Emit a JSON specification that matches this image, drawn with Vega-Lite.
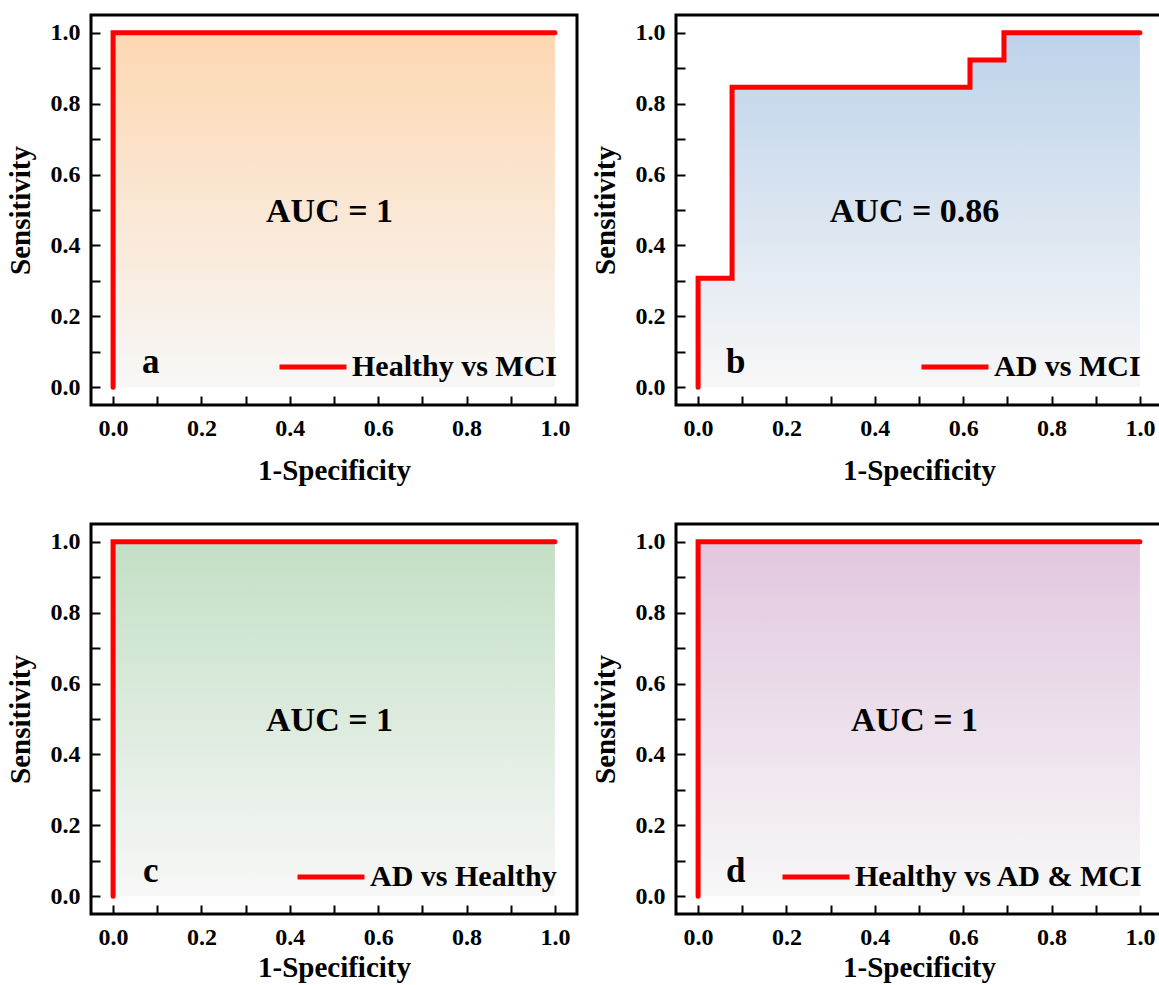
{
  "$schema": "https://vega.github.io/schema/vega-lite/v6.json",
  "background": "white",
  "padding": {"left": 4, "top": 13, "right": 0, "bottom": 0},
  "bounds": "flush",
  "columns": 2,
  "spacing": {"row": 119, "column": 99},
  "datasets": {
    "roc": [
      {"panel": "a", "comparison": "Healthy vs MCI", "step": 1, "fpr": 0, "tpr": 0},
      {"panel": "a", "comparison": "Healthy vs MCI", "step": 2, "fpr": 0, "tpr": 1},
      {"panel": "a", "comparison": "Healthy vs MCI", "step": 3, "fpr": 1, "tpr": 1},
      {"panel": "b", "comparison": "AD vs MCI", "step": 1, "fpr": 0, "tpr": 0},
      {"panel": "b", "comparison": "AD vs MCI", "step": 2, "fpr": 0, "tpr": 0.3077},
      {"panel": "b", "comparison": "AD vs MCI", "step": 3, "fpr": 0.0769, "tpr": 0.8462},
      {"panel": "b", "comparison": "AD vs MCI", "step": 4, "fpr": 0.6154, "tpr": 0.9231},
      {"panel": "b", "comparison": "AD vs MCI", "step": 5, "fpr": 0.6923, "tpr": 1},
      {"panel": "b", "comparison": "AD vs MCI", "step": 6, "fpr": 1, "tpr": 1},
      {"panel": "c", "comparison": "AD vs Healthy", "step": 1, "fpr": 0, "tpr": 0},
      {"panel": "c", "comparison": "AD vs Healthy", "step": 2, "fpr": 0, "tpr": 1},
      {"panel": "c", "comparison": "AD vs Healthy", "step": 3, "fpr": 1, "tpr": 1},
      {"panel": "d", "comparison": "Healthy vs AD & MCI", "step": 1, "fpr": 0, "tpr": 0},
      {"panel": "d", "comparison": "Healthy vs AD & MCI", "step": 2, "fpr": 0, "tpr": 1},
      {"panel": "d", "comparison": "Healthy vs AD & MCI", "step": 3, "fpr": 1, "tpr": 1}
    ],
    "panels": [
      {"panel": "a", "auc": "AUC = 1"},
      {"panel": "b", "auc": "AUC = 0.86"},
      {"panel": "c", "auc": "AUC = 1"},
      {"panel": "d", "auc": "AUC = 1"}
    ]
  },
  "concat": [
    {
      "width": 486, "height": 390,
      "layer": [
        {"data": {"name": "roc"}, "transform": [{"filter": "datum.panel == 'a' && datum.step > 1"}],
         "mark": {"type": "area", "interpolate": "step-after", "color": {"gradient": "linear", "x1": 0, "y1": 0, "x2": 0, "y2": 1, "stops": [{"offset": 0, "color": "#fdd7b1"}, {"offset": 1, "color": "#f7f7f7"}]}},
         "encoding": {
           "x": {"field": "fpr", "type": "quantitative", "scale": {"domain": [-0.05, 1.05], "nice": false, "zero": false}, "axis": {"title": "1-Specificity", "titlePadding": 16, "values": [0,0.1,0.2,0.3,0.4,0.5,0.6,0.7,0.8,0.9,1], "labelExpr": "(round(datum.value*10) % 2 == 0) ? format(datum.value, '.1f') : ''"}},
           "y": {"field": "tpr", "type": "quantitative", "scale": {"domain": [-0.05, 1.05], "nice": false, "zero": false}, "axis": {"title": "Sensitivity", "values": [0,0.1,0.2,0.3,0.4,0.5,0.6,0.7,0.8,0.9,1], "labelExpr": "(round(datum.value*10) % 2 == 0) ? format(datum.value, '.1f') : ''"}}
         }},
        {"data": {"name": "roc"}, "transform": [{"filter": "datum.panel == 'a'"}],
         "mark": {"type": "line", "interpolate": "step-after", "strokeWidth": 5, "strokeCap": "round", "strokeJoin": "miter"},
         "encoding": {
           "x": {"field": "fpr", "type": "quantitative", "scale": {"domain": [-0.05, 1.05], "nice": false, "zero": false}, "axis": {"title": "1-Specificity", "titlePadding": 16, "values": [0,0.1,0.2,0.3,0.4,0.5,0.6,0.7,0.8,0.9,1], "labelExpr": "(round(datum.value*10) % 2 == 0) ? format(datum.value, '.1f') : ''"}},
           "y": {"field": "tpr", "type": "quantitative", "scale": {"domain": [-0.05, 1.05], "nice": false, "zero": false}, "axis": {"title": "Sensitivity", "values": [0,0.1,0.2,0.3,0.4,0.5,0.6,0.7,0.8,0.9,1], "labelExpr": "(round(datum.value*10) % 2 == 0) ? format(datum.value, '.1f') : ''"}},
           "order": {"field": "step"},
           "color": {"field": "comparison", "type": "nominal", "scale": {"range": ["#ff0000"]},
             "legend": {"orient": "none", "legendX": 186, "legendY": 316, "title": null, "padding": 0, "symbolType": "stroke", "symbolSize": 4489, "symbolStrokeWidth": 5, "labelFontSize": 30, "labelFont": "Liberation Serif", "labelFontWeight": "bold", "labelColor": "black", "labelOffset": 3, "labelLimit": 0}}}},
        {"data": {"name": "panels"}, "transform": [{"filter": "datum.panel == 'a'"}],
         "mark": {"type": "text", "font": "Liberation Serif", "fontWeight": "bold", "fontSize": 34, "align": "center", "baseline": "alphabetic", "color": "black"},
         "encoding": {
           "x": {"datum": 0.49, "type": "quantitative", "scale": {"domain": [-0.05, 1.05], "nice": false, "zero": false}, "axis": {"title": "1-Specificity", "titlePadding": 16, "values": [0,0.1,0.2,0.3,0.4,0.5,0.6,0.7,0.8,0.9,1], "labelExpr": "(round(datum.value*10) % 2 == 0) ? format(datum.value, '.1f') : ''"}},
           "y": {"datum": 0.465, "type": "quantitative", "scale": {"domain": [-0.05, 1.05], "nice": false, "zero": false}, "axis": {"title": "Sensitivity", "values": [0,0.1,0.2,0.3,0.4,0.5,0.6,0.7,0.8,0.9,1], "labelExpr": "(round(datum.value*10) % 2 == 0) ? format(datum.value, '.1f') : ''"}},
           "text": {"field": "auc"}}},
        {"data": {"name": "panels"}, "transform": [{"filter": "datum.panel == 'a'"}],
         "mark": {"type": "text", "font": "Liberation Serif", "fontWeight": "bold", "fontSize": 35, "align": "center", "baseline": "alphabetic", "color": "black"},
         "encoding": {
           "x": {"datum": 0.085, "type": "quantitative", "scale": {"domain": [-0.05, 1.05], "nice": false, "zero": false}, "axis": {"title": "1-Specificity", "titlePadding": 16, "values": [0,0.1,0.2,0.3,0.4,0.5,0.6,0.7,0.8,0.9,1], "labelExpr": "(round(datum.value*10) % 2 == 0) ? format(datum.value, '.1f') : ''"}},
           "y": {"datum": 0.04, "type": "quantitative", "scale": {"domain": [-0.05, 1.05], "nice": false, "zero": false}, "axis": {"title": "Sensitivity", "values": [0,0.1,0.2,0.3,0.4,0.5,0.6,0.7,0.8,0.9,1], "labelExpr": "(round(datum.value*10) % 2 == 0) ? format(datum.value, '.1f') : ''"}},
           "text": {"field": "panel"}}}
      ]
    },
    {
      "width": 486, "height": 390,
      "layer": [
        {"data": {"name": "roc"}, "transform": [{"filter": "datum.panel == 'b' && datum.step > 1"}],
         "mark": {"type": "area", "interpolate": "step-after", "color": {"gradient": "linear", "x1": 0, "y1": 0, "x2": 0, "y2": 1, "stops": [{"offset": 0, "color": "#bdd2ea"}, {"offset": 1, "color": "#f7f7f7"}]}},
         "encoding": {
           "x": {"field": "fpr", "type": "quantitative", "scale": {"domain": [-0.05, 1.05], "nice": false, "zero": false}, "axis": {"title": "1-Specificity", "titlePadding": 16, "values": [0,0.1,0.2,0.3,0.4,0.5,0.6,0.7,0.8,0.9,1], "labelExpr": "(round(datum.value*10) % 2 == 0) ? format(datum.value, '.1f') : ''"}},
           "y": {"field": "tpr", "type": "quantitative", "scale": {"domain": [-0.05, 1.05], "nice": false, "zero": false}, "axis": {"title": "Sensitivity", "values": [0,0.1,0.2,0.3,0.4,0.5,0.6,0.7,0.8,0.9,1], "labelExpr": "(round(datum.value*10) % 2 == 0) ? format(datum.value, '.1f') : ''"}}
         }},
        {"data": {"name": "roc"}, "transform": [{"filter": "datum.panel == 'b'"}],
         "mark": {"type": "line", "interpolate": "step-after", "strokeWidth": 5, "strokeCap": "round", "strokeJoin": "miter"},
         "encoding": {
           "x": {"field": "fpr", "type": "quantitative", "scale": {"domain": [-0.05, 1.05], "nice": false, "zero": false}, "axis": {"title": "1-Specificity", "titlePadding": 16, "values": [0,0.1,0.2,0.3,0.4,0.5,0.6,0.7,0.8,0.9,1], "labelExpr": "(round(datum.value*10) % 2 == 0) ? format(datum.value, '.1f') : ''"}},
           "y": {"field": "tpr", "type": "quantitative", "scale": {"domain": [-0.05, 1.05], "nice": false, "zero": false}, "axis": {"title": "Sensitivity", "values": [0,0.1,0.2,0.3,0.4,0.5,0.6,0.7,0.8,0.9,1], "labelExpr": "(round(datum.value*10) % 2 == 0) ? format(datum.value, '.1f') : ''"}},
           "order": {"field": "step"},
           "color": {"field": "comparison", "type": "nominal", "scale": {"range": ["#ff0000"]},
             "legend": {"orient": "none", "legendX": 243, "legendY": 316, "title": null, "padding": 0, "symbolType": "stroke", "symbolSize": 4489, "symbolStrokeWidth": 5, "labelFontSize": 30, "labelFont": "Liberation Serif", "labelFontWeight": "bold", "labelColor": "black", "labelOffset": 3, "labelLimit": 0}}}},
        {"data": {"name": "panels"}, "transform": [{"filter": "datum.panel == 'b'"}],
         "mark": {"type": "text", "font": "Liberation Serif", "fontWeight": "bold", "fontSize": 34, "align": "center", "baseline": "alphabetic", "color": "black"},
         "encoding": {
           "x": {"datum": 0.49, "type": "quantitative", "scale": {"domain": [-0.05, 1.05], "nice": false, "zero": false}, "axis": {"title": "1-Specificity", "titlePadding": 16, "values": [0,0.1,0.2,0.3,0.4,0.5,0.6,0.7,0.8,0.9,1], "labelExpr": "(round(datum.value*10) % 2 == 0) ? format(datum.value, '.1f') : ''"}},
           "y": {"datum": 0.465, "type": "quantitative", "scale": {"domain": [-0.05, 1.05], "nice": false, "zero": false}, "axis": {"title": "Sensitivity", "values": [0,0.1,0.2,0.3,0.4,0.5,0.6,0.7,0.8,0.9,1], "labelExpr": "(round(datum.value*10) % 2 == 0) ? format(datum.value, '.1f') : ''"}},
           "text": {"field": "auc"}}},
        {"data": {"name": "panels"}, "transform": [{"filter": "datum.panel == 'b'"}],
         "mark": {"type": "text", "font": "Liberation Serif", "fontWeight": "bold", "fontSize": 35, "align": "center", "baseline": "alphabetic", "color": "black"},
         "encoding": {
           "x": {"datum": 0.085, "type": "quantitative", "scale": {"domain": [-0.05, 1.05], "nice": false, "zero": false}, "axis": {"title": "1-Specificity", "titlePadding": 16, "values": [0,0.1,0.2,0.3,0.4,0.5,0.6,0.7,0.8,0.9,1], "labelExpr": "(round(datum.value*10) % 2 == 0) ? format(datum.value, '.1f') : ''"}},
           "y": {"datum": 0.04, "type": "quantitative", "scale": {"domain": [-0.05, 1.05], "nice": false, "zero": false}, "axis": {"title": "Sensitivity", "values": [0,0.1,0.2,0.3,0.4,0.5,0.6,0.7,0.8,0.9,1], "labelExpr": "(round(datum.value*10) % 2 == 0) ? format(datum.value, '.1f') : ''"}},
           "text": {"field": "panel"}}}
      ]
    },
    {
      "width": 486, "height": 390,
      "layer": [
        {"data": {"name": "roc"}, "transform": [{"filter": "datum.panel == 'c' && datum.step > 1"}],
         "mark": {"type": "area", "interpolate": "step-after", "color": {"gradient": "linear", "x1": 0, "y1": 0, "x2": 0, "y2": 1, "stops": [{"offset": 0, "color": "#c3dfc5"}, {"offset": 1, "color": "#f7f7f7"}]}},
         "encoding": {
           "x": {"field": "fpr", "type": "quantitative", "scale": {"domain": [-0.05, 1.05], "nice": false, "zero": false}, "axis": {"title": "1-Specificity", "titlePadding": 4, "values": [0,0.1,0.2,0.3,0.4,0.5,0.6,0.7,0.8,0.9,1], "labelExpr": "(round(datum.value*10) % 2 == 0) ? format(datum.value, '.1f') : ''"}},
           "y": {"field": "tpr", "type": "quantitative", "scale": {"domain": [-0.05, 1.05], "nice": false, "zero": false}, "axis": {"title": "Sensitivity", "values": [0,0.1,0.2,0.3,0.4,0.5,0.6,0.7,0.8,0.9,1], "labelExpr": "(round(datum.value*10) % 2 == 0) ? format(datum.value, '.1f') : ''"}}
         }},
        {"data": {"name": "roc"}, "transform": [{"filter": "datum.panel == 'c'"}],
         "mark": {"type": "line", "interpolate": "step-after", "strokeWidth": 5, "strokeCap": "round", "strokeJoin": "miter"},
         "encoding": {
           "x": {"field": "fpr", "type": "quantitative", "scale": {"domain": [-0.05, 1.05], "nice": false, "zero": false}, "axis": {"title": "1-Specificity", "titlePadding": 4, "values": [0,0.1,0.2,0.3,0.4,0.5,0.6,0.7,0.8,0.9,1], "labelExpr": "(round(datum.value*10) % 2 == 0) ? format(datum.value, '.1f') : ''"}},
           "y": {"field": "tpr", "type": "quantitative", "scale": {"domain": [-0.05, 1.05], "nice": false, "zero": false}, "axis": {"title": "Sensitivity", "values": [0,0.1,0.2,0.3,0.4,0.5,0.6,0.7,0.8,0.9,1], "labelExpr": "(round(datum.value*10) % 2 == 0) ? format(datum.value, '.1f') : ''"}},
           "order": {"field": "step"},
           "color": {"field": "comparison", "type": "nominal", "scale": {"range": ["#ff0000"]},
             "legend": {"orient": "none", "legendX": 204, "legendY": 317, "title": null, "padding": 0, "symbolType": "stroke", "symbolSize": 4489, "symbolStrokeWidth": 5, "labelFontSize": 30, "labelFont": "Liberation Serif", "labelFontWeight": "bold", "labelColor": "black", "labelOffset": 3, "labelLimit": 0}}}},
        {"data": {"name": "panels"}, "transform": [{"filter": "datum.panel == 'c'"}],
         "mark": {"type": "text", "font": "Liberation Serif", "fontWeight": "bold", "fontSize": 34, "align": "center", "baseline": "alphabetic", "color": "black"},
         "encoding": {
           "x": {"datum": 0.49, "type": "quantitative", "scale": {"domain": [-0.05, 1.05], "nice": false, "zero": false}, "axis": {"title": "1-Specificity", "titlePadding": 4, "values": [0,0.1,0.2,0.3,0.4,0.5,0.6,0.7,0.8,0.9,1], "labelExpr": "(round(datum.value*10) % 2 == 0) ? format(datum.value, '.1f') : ''"}},
           "y": {"datum": 0.465, "type": "quantitative", "scale": {"domain": [-0.05, 1.05], "nice": false, "zero": false}, "axis": {"title": "Sensitivity", "values": [0,0.1,0.2,0.3,0.4,0.5,0.6,0.7,0.8,0.9,1], "labelExpr": "(round(datum.value*10) % 2 == 0) ? format(datum.value, '.1f') : ''"}},
           "text": {"field": "auc"}}},
        {"data": {"name": "panels"}, "transform": [{"filter": "datum.panel == 'c'"}],
         "mark": {"type": "text", "font": "Liberation Serif", "fontWeight": "bold", "fontSize": 35, "align": "center", "baseline": "alphabetic", "color": "black"},
         "encoding": {
           "x": {"datum": 0.085, "type": "quantitative", "scale": {"domain": [-0.05, 1.05], "nice": false, "zero": false}, "axis": {"title": "1-Specificity", "titlePadding": 4, "values": [0,0.1,0.2,0.3,0.4,0.5,0.6,0.7,0.8,0.9,1], "labelExpr": "(round(datum.value*10) % 2 == 0) ? format(datum.value, '.1f') : ''"}},
           "y": {"datum": 0.04, "type": "quantitative", "scale": {"domain": [-0.05, 1.05], "nice": false, "zero": false}, "axis": {"title": "Sensitivity", "values": [0,0.1,0.2,0.3,0.4,0.5,0.6,0.7,0.8,0.9,1], "labelExpr": "(round(datum.value*10) % 2 == 0) ? format(datum.value, '.1f') : ''"}},
           "text": {"field": "panel"}}}
      ]
    },
    {
      "width": 486, "height": 390,
      "layer": [
        {"data": {"name": "roc"}, "transform": [{"filter": "datum.panel == 'd' && datum.step > 1"}],
         "mark": {"type": "area", "interpolate": "step-after", "color": {"gradient": "linear", "x1": 0, "y1": 0, "x2": 0, "y2": 1, "stops": [{"offset": 0, "color": "#e1c7df"}, {"offset": 1, "color": "#f7f7f7"}]}},
         "encoding": {
           "x": {"field": "fpr", "type": "quantitative", "scale": {"domain": [-0.05, 1.05], "nice": false, "zero": false}, "axis": {"title": "1-Specificity", "titlePadding": 4, "values": [0,0.1,0.2,0.3,0.4,0.5,0.6,0.7,0.8,0.9,1], "labelExpr": "(round(datum.value*10) % 2 == 0) ? format(datum.value, '.1f') : ''"}},
           "y": {"field": "tpr", "type": "quantitative", "scale": {"domain": [-0.05, 1.05], "nice": false, "zero": false}, "axis": {"title": "Sensitivity", "values": [0,0.1,0.2,0.3,0.4,0.5,0.6,0.7,0.8,0.9,1], "labelExpr": "(round(datum.value*10) % 2 == 0) ? format(datum.value, '.1f') : ''"}}
         }},
        {"data": {"name": "roc"}, "transform": [{"filter": "datum.panel == 'd'"}],
         "mark": {"type": "line", "interpolate": "step-after", "strokeWidth": 5, "strokeCap": "round", "strokeJoin": "miter"},
         "encoding": {
           "x": {"field": "fpr", "type": "quantitative", "scale": {"domain": [-0.05, 1.05], "nice": false, "zero": false}, "axis": {"title": "1-Specificity", "titlePadding": 4, "values": [0,0.1,0.2,0.3,0.4,0.5,0.6,0.7,0.8,0.9,1], "labelExpr": "(round(datum.value*10) % 2 == 0) ? format(datum.value, '.1f') : ''"}},
           "y": {"field": "tpr", "type": "quantitative", "scale": {"domain": [-0.05, 1.05], "nice": false, "zero": false}, "axis": {"title": "Sensitivity", "values": [0,0.1,0.2,0.3,0.4,0.5,0.6,0.7,0.8,0.9,1], "labelExpr": "(round(datum.value*10) % 2 == 0) ? format(datum.value, '.1f') : ''"}},
           "order": {"field": "step"},
           "color": {"field": "comparison", "type": "nominal", "scale": {"range": ["#ff0000"]},
             "legend": {"orient": "none", "legendX": 104, "legendY": 317, "title": null, "padding": 0, "symbolType": "stroke", "symbolSize": 4489, "symbolStrokeWidth": 5, "labelFontSize": 30, "labelFont": "Liberation Serif", "labelFontWeight": "bold", "labelColor": "black", "labelOffset": 3, "labelLimit": 0}}}},
        {"data": {"name": "panels"}, "transform": [{"filter": "datum.panel == 'd'"}],
         "mark": {"type": "text", "font": "Liberation Serif", "fontWeight": "bold", "fontSize": 34, "align": "center", "baseline": "alphabetic", "color": "black"},
         "encoding": {
           "x": {"datum": 0.49, "type": "quantitative", "scale": {"domain": [-0.05, 1.05], "nice": false, "zero": false}, "axis": {"title": "1-Specificity", "titlePadding": 4, "values": [0,0.1,0.2,0.3,0.4,0.5,0.6,0.7,0.8,0.9,1], "labelExpr": "(round(datum.value*10) % 2 == 0) ? format(datum.value, '.1f') : ''"}},
           "y": {"datum": 0.465, "type": "quantitative", "scale": {"domain": [-0.05, 1.05], "nice": false, "zero": false}, "axis": {"title": "Sensitivity", "values": [0,0.1,0.2,0.3,0.4,0.5,0.6,0.7,0.8,0.9,1], "labelExpr": "(round(datum.value*10) % 2 == 0) ? format(datum.value, '.1f') : ''"}},
           "text": {"field": "auc"}}},
        {"data": {"name": "panels"}, "transform": [{"filter": "datum.panel == 'd'"}],
         "mark": {"type": "text", "font": "Liberation Serif", "fontWeight": "bold", "fontSize": 35, "align": "center", "baseline": "alphabetic", "color": "black"},
         "encoding": {
           "x": {"datum": 0.085, "type": "quantitative", "scale": {"domain": [-0.05, 1.05], "nice": false, "zero": false}, "axis": {"title": "1-Specificity", "titlePadding": 4, "values": [0,0.1,0.2,0.3,0.4,0.5,0.6,0.7,0.8,0.9,1], "labelExpr": "(round(datum.value*10) % 2 == 0) ? format(datum.value, '.1f') : ''"}},
           "y": {"datum": 0.04, "type": "quantitative", "scale": {"domain": [-0.05, 1.05], "nice": false, "zero": false}, "axis": {"title": "Sensitivity", "values": [0,0.1,0.2,0.3,0.4,0.5,0.6,0.7,0.8,0.9,1], "labelExpr": "(round(datum.value*10) % 2 == 0) ? format(datum.value, '.1f') : ''"}},
           "text": {"field": "panel"}}}
      ]
    }
  ],
  "resolve": {"scale": {"color": "independent"}},
  "config": {
    "font": "Liberation Serif",
    "view": {"stroke": "black", "strokeWidth": 3},
    "axis": {
      "domain": false, "grid": false, "ticks": true, "tickColor": "black", "tickWidth": 2, "tickSize": -9,
      "labelFont": "Liberation Serif", "labelFontSize": 24, "labelFontWeight": "bold", "labelColor": "black",
      "titleFont": "Liberation Serif", "titleFontSize": 29, "titleFontWeight": "bold", "titleColor": "black",
      "labelOverlap": false, "labelFlush": false, "labelBound": false
    },
    "axisX": {"labelPadding": 20},
    "axisY": {"labelPadding": 20, "titlePadding": 15}
  }
}
